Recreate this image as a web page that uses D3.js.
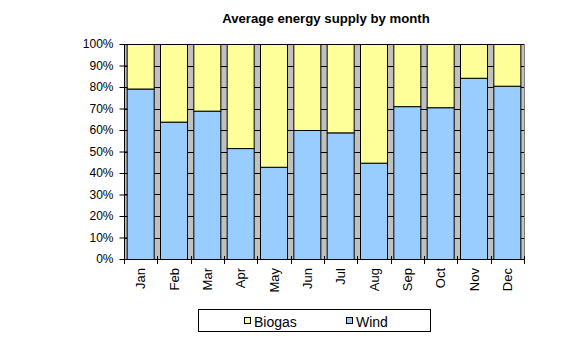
<!DOCTYPE html>
<html><head><meta charset="utf-8">
<script src="https://cdn.jsdelivr.net/npm/d3@7"></script>
<style>body{margin:0;background:#fff}svg{display:block}text{font-family:Arial,"Liberation Sans",sans-serif}</style>
</head><body><svg id="c" width="575" height="344"></svg>
<script>
const months = ["Jan","Feb","Mar","Apr","May","Jun","Jul","Aug","Sep","Oct","Nov","Dec"];
const wind = [79.3,63.9,69.0,51.6,42.9,60.0,58.9,44.8,71.1,70.6,84.3,80.6];
const biogas = [20.7,36.1,31.0,48.4,57.1,40.0,41.1,55.2,28.9,29.4,15.7,19.4];
const seriesNames = ["Wind","Biogas"];
const colors = {Wind:"#99CCFF", Biogas:"#FFFF99"};
const yTicks = [0,0.1,0.2,0.3,0.4,0.5,0.6,0.7,0.8,0.9,1];
const title = "Average energy supply by month";

const svg = d3.select("#c");
const L=124,R=524,T=44,B=259;
const x = d3.scaleBand().domain(months).range([L,R]).paddingInner(0.16).paddingOuter(0.08);
const y = d3.scaleLinear().domain([0,1]).range([B,T]);

const rows = months.map((m,i)=>{const t=wind[i]+biogas[i];return {m, Wind:wind[i]/t, Biogas:biogas[i]/t};});
const stacked = d3.stack().keys(seriesNames)(rows);

svg.append("rect").attr("x",L).attr("y",T).attr("width",R-L).attr("height",B-T).attr("fill","#C0C0C0");
svg.append("g").selectAll("line").data(yTicks).join("line")
  .attr("x1",L).attr("x2",R).attr("y1",d=>Math.round(y(d))+0.5).attr("y2",d=>Math.round(y(d))+0.5)
  .attr("stroke","#000").attr("stroke-width",1);
svg.append("line").attr("x1",R+0.5).attr("x2",R+0.5).attr("y1",T).attr("y2",B).attr("stroke","#808080");

stacked.forEach(s=>{
  svg.append("g").selectAll("rect").data(s).join("rect")
    .attr("x",d=>x(d.data.m)+0.5).attr("width",x.bandwidth()-1)
    .attr("y",d=>y(d[1])+0.5).attr("height",d=>y(d[0])-y(d[1]))
    .attr("fill",colors[s.key]).attr("stroke","#000").attr("stroke-width",1);
});

// y axis
const ya = svg.append("g").attr("transform",`translate(${L+0.5},0)`)
  .call(d3.axisLeft(y).tickValues(yTicks).tickFormat(d3.format(".0%")).tickSize(5).tickPadding(6));
ya.select(".domain").remove();
ya.append("line").attr("x1",0).attr("x2",0).attr("y1",T).attr("y2",B+0.5).attr("stroke","#000");
ya.selectAll(".tick line").attr("x1",-5).attr("x2",3).attr("stroke","#000");
ya.selectAll(".tick text").attr("font-size",12).attr("fill","#000").attr("font-family","Arial, 'Liberation Sans', sans-serif");

// x axis
const bounds = d3.range(13).map(i=>L+i*(R-L)/12);
const xg = svg.append("g");
xg.append("line").attr("x1",L).attr("x2",R+1).attr("y1",B+0.5).attr("y2",B+0.5).attr("stroke","#000");
xg.selectAll("line.t").data(bounds).join("line").attr("class","t")
  .attr("x1",d=>Math.round(d)+0.5).attr("x2",d=>Math.round(d)+0.5).attr("y1",B-3).attr("y2",B+5).attr("stroke","#000");
xg.selectAll("text").data(months).join("text")
  .attr("transform",d=>`translate(${x(d)+x.bandwidth()/2+4.5},${B+9}) rotate(-90)`)
  .attr("text-anchor","end").attr("font-size",13).attr("fill","#000").text(d=>d);

// title
svg.append("text").attr("x",326).attr("y",23).attr("text-anchor","middle")
  .attr("font-size",13.2).attr("font-weight","bold").text(title);

// legend
const lg = svg.append("g");
lg.append("rect").attr("x",198.5).attr("y",309.5).attr("width",232).attr("height",22).attr("fill","#fff").attr("stroke","#000");
const items = [{k:"Biogas",x:244},{k:"Wind",x:346}];
items.forEach(it=>{
  lg.append("rect").attr("x",it.x+0.5).attr("y",317.5).attr("width",6).attr("height",6).attr("fill",colors[it.k]).attr("stroke","#000");
  lg.append("text").attr("x",it.x+10).attr("y",326.5).attr("font-size",14).attr("fill","#000").text(it.k);
});
</script></body></html>
